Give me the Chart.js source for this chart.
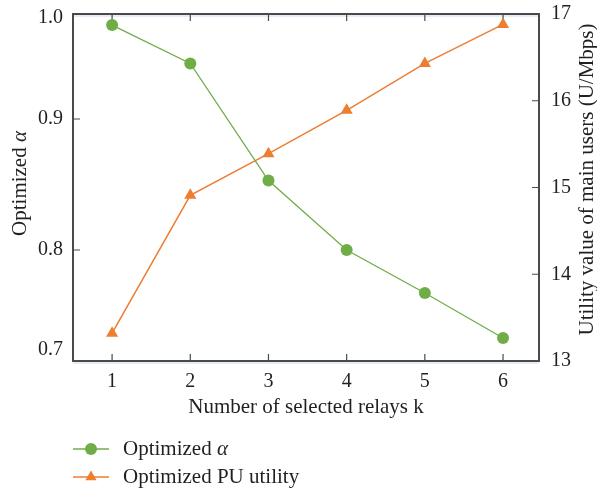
<!DOCTYPE html>
<html>
<head>
<meta charset="utf-8">
<script src="https://cdn.jsdelivr.net/npm/chart.js@4.4.1/dist/chart.umd.min.js"></script>
<style>
  body { margin: 0; background: #fff; }
</style>
</head>
<body>
<canvas id="relayChart" width="597" height="490"></canvas>
<script>
const relays = [1, 2, 3, 4, 5, 6];
const alphaValues = [0.993, 0.955, 0.853, 0.800, 0.757, 0.712];
const puUtility = [13.32, 14.91, 15.39, 15.89, 16.43, 16.88];
const alphaTicks = [0.7, 0.8, 0.9, 1.0];
const utilityTicks = [13, 14, 15, 16, 17];

// the alpha axis in the paper figure is not evenly spaced, so it is mapped piecewise
const alphaKnots = [0.689, 0.7, 0.8, 0.9, 1.0, 1.004];
const alphaStops = [0, 0.0317, 0.3199, 0.6974, 0.9885, 1];

const GREEN = '#70AD47';
const ORANGE = '#ED7D31';
const AXIS = '#4a4a4a';
const TEXT = '#231f20';
const FONT = '"Liberation Serif", "DejaVu Serif", serif';
const TITLE_SIZE = 21;

function interp(v, xs, ys) {
  let i = 0;
  while (i < xs.length - 2 && v > xs[i + 1]) i++;
  const t = (v - xs[i]) / (xs[i + 1] - xs[i]);
  return ys[i] + t * (ys[i + 1] - ys[i]);
}

class StretchScale extends Chart.LinearScale {
  getPixelForValue(value) {
    if (value === null || value === undefined || isNaN(value)) return NaN;
    return this.getPixelForDecimal(interp(value, alphaKnots, alphaStops));
  }
  getValueForPixel(pixel) {
    return interp(this.getDecimalForPixel(pixel), alphaStops, alphaKnots);
  }
}
StretchScale.id = 'stretch';
StretchScale.defaults = Chart.LinearScale.defaults;
Chart.register(StretchScale);

// frame with inward ticks, like the original figure
const framePlugin = {
  id: 'frame',
  beforeDatasetsDraw(chart) {
    const { ctx, chartArea: a, scales } = chart;
    ctx.save();
    ctx.strokeStyle = '#c9dcf2';
    ctx.lineWidth = 1;
    ctx.beginPath();
    ctx.moveTo(a.left, a.top + 2); ctx.lineTo(a.right, a.top + 2);
    ctx.moveTo(a.left, a.bottom + 2); ctx.lineTo(a.right, a.bottom + 2);
    ctx.stroke();

    ctx.strokeStyle = AXIS;
    ctx.lineWidth = 2;
    ctx.strokeRect(a.left, a.top, a.right - a.left, a.bottom - a.top);

    ctx.lineWidth = 1.2;
    ctx.beginPath();
    const len = 7;
    scales.x.ticks.forEach((t, i) => {
      const px = scales.x.getPixelForTick(i);
      ctx.moveTo(px, a.bottom); ctx.lineTo(px, a.bottom - len);
      ctx.moveTo(px, a.top); ctx.lineTo(px, a.top + len);
    });
    scales.y.ticks.forEach((t, i) => {
      const py = scales.y.getPixelForTick(i);
      if (py - a.top < 12 || a.bottom - py < 14) return;
      ctx.moveTo(a.left, py); ctx.lineTo(a.left + len, py);
    });
    scales.y1.ticks.forEach((t, i) => {
      const py = scales.y1.getPixelForTick(i);
      if (py - a.top < 12 || a.bottom - py < 12) return;
      ctx.moveTo(a.right, py); ctx.lineTo(a.right - len, py);
    });
    ctx.stroke();
    ctx.restore();
  },
  afterDraw(chart) {
    const { ctx, chartArea: a } = chart;
    const midY = (a.top + a.bottom) / 2;
    const plain = TITLE_SIZE + 'px ' + FONT;
    const italic = 'italic ' + TITLE_SIZE + 'px ' + FONT;
    ctx.save();
    ctx.fillStyle = TEXT;
    ctx.textBaseline = 'middle';

    // x title
    ctx.font = plain;
    ctx.textAlign = 'center';
    ctx.fillText('Number of selected relays k', (a.left + a.right) / 2, 407);

    // left title with italic alpha
    ctx.save();
    ctx.translate(20, midY - 4);
    ctx.rotate(-Math.PI / 2);
    ctx.textAlign = 'left';
    const word = 'Optimized ';
    const wWord = ctx.measureText(word).width;
    ctx.font = italic;
    const wAlpha = ctx.measureText('α').width;
    const start = -(wWord + wAlpha) / 2;
    ctx.font = plain;
    ctx.fillText(word, start, 0);
    ctx.font = italic;
    ctx.fillText('α', start + wWord, 0);
    ctx.restore();

    // right title, reads bottom to top
    ctx.save();
    ctx.translate(587, midY - 8);
    ctx.rotate(-Math.PI / 2);
    ctx.textAlign = 'center';
    ctx.font = plain;
    ctx.fillText('Utility value of main users (U/Mbps)', 0, 0);
    ctx.restore();

    // legend
    const rows = [449, 477];
    chart.data.datasets.forEach((ds, i) => {
      const y = rows[i];
      ctx.strokeStyle = ds.borderColor;
      ctx.lineWidth = 1.5;
      ctx.beginPath();
      ctx.moveTo(73, y); ctx.lineTo(109, y);
      ctx.stroke();
      ctx.fillStyle = ds.pointBackgroundColor;
      ctx.beginPath();
      if (ds.pointStyle === 'triangle') {
        const r = 6.5;
        ctx.moveTo(91, y - r);
        ctx.lineTo(91 + r * 0.866, y + r * 0.5);
        ctx.lineTo(91 - r * 0.866, y + r * 0.5);
        ctx.closePath();
      } else {
        ctx.arc(91, y, 6, 0, Math.PI * 2);
      }
      ctx.fill();
      ctx.fillStyle = TEXT;
      ctx.textAlign = 'left';
      if (ds.label.endsWith('α')) {
        const base = ds.label.slice(0, -1);
        ctx.font = plain;
        ctx.fillText(base, 123, y);
        const w = ctx.measureText(base).width;
        ctx.font = italic;
        ctx.fillText('α', 123 + w, y);
      } else {
        ctx.font = plain;
        ctx.fillText(ds.label, 123, y);
      }
    });
    ctx.restore();
  }
};

// keep the plot box fixed, tick labels are allowed to spill over it
function fixWidth(w) {
  return (s) => { s.width = w; s.paddingTop = 0; s.paddingBottom = 0; };
}

const ctxRelay = document.getElementById('relayChart').getContext('2d');
const relayChart = new Chart(ctxRelay, {
  type: 'line',
  data: {
    datasets: [{
      label: 'Optimized α',
      data: relays.map((k, i) => ({ x: k, y: alphaValues[i] })),
      yAxisID: 'y',
      borderColor: GREEN,
      backgroundColor: GREEN,
      pointBackgroundColor: GREEN,
      pointBorderWidth: 0,
      pointStyle: 'circle',
      pointRadius: 6,
      borderWidth: 1.3,
      tension: 0
    }, {
      label: 'Optimized PU utility',
      data: relays.map((k, i) => ({ x: k, y: puUtility[i] })),
      yAxisID: 'y1',
      borderColor: ORANGE,
      backgroundColor: ORANGE,
      pointBackgroundColor: ORANGE,
      pointBorderWidth: 0,
      pointStyle: 'triangle',
      pointRadius: 7,
      borderWidth: 1.5,
      tension: 0
    }]
  },
  options: {
    responsive: false,
    animation: false,
    layout: {
      padding: { left: 0, right: 0, top: 14, bottom: 89 }
    },
    plugins: {
      legend: { display: false },
      tooltip: { enabled: false }
    },
    scales: {
      x: {
        type: 'linear',
        min: 0.5,
        max: 6.46,
        afterBuildTicks: (s) => { s.ticks = relays.map(v => ({ value: v })); },
        afterFit: (s) => { s.height = 40; s.paddingLeft = 0; s.paddingRight = 0; },
        grid: { display: false, drawTicks: false },
        border: { display: false },
        ticks: {
          padding: 9,
          color: TEXT,
          font: { family: FONT, size: 20 }
        }
      },
      y: {
        type: 'stretch',
        position: 'left',
        min: alphaKnots[0],
        max: alphaKnots[alphaKnots.length - 1],
        afterBuildTicks: (s) => { s.ticks = alphaTicks.map(v => ({ value: v })); },
        afterFit: fixWidth(73),
        grid: { display: false, drawTicks: false },
        border: { display: false },
        ticks: {
          padding: 10,
          color: TEXT,
          font: { family: FONT, size: 20 },
          callback: (v) => Number(v).toFixed(1)
        }
      },
      y1: {
        type: 'linear',
        position: 'right',
        min: 13,
        max: 17,
        afterBuildTicks: (s) => { s.ticks = utilityTicks.map(v => ({ value: v })); },
        afterFit: fixWidth(58),
        grid: { display: false, drawTicks: false },
        border: { display: false },
        ticks: {
          padding: 12,
          color: TEXT,
          font: { family: FONT, size: 20 }
        }
      }
    }
  },
  plugins: [framePlugin]
});
</script>
</body>
</html>
